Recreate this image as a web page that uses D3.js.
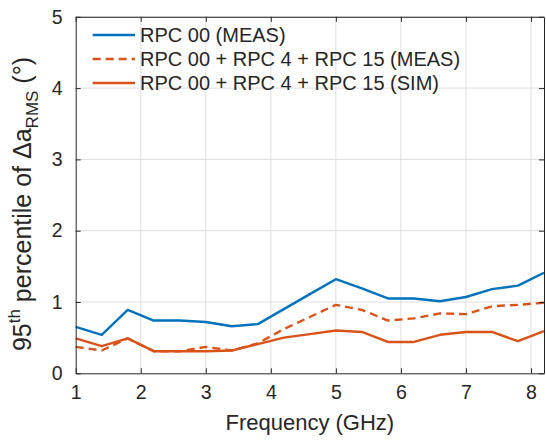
<!DOCTYPE html>
<html>
<head>
<meta charset="utf-8">
<script src="https://cdn.jsdelivr.net/npm/d3@7"></script>
<style>
  html, body { margin: 0; padding: 0; background: #fff; }
  svg { display: block; font-family: "Liberation Sans", Arial, Helvetica, sans-serif; }
</style>
</head>
<body>
<svg id="chart" width="546" height="441"></svg>
<script>
// Frequency sweep (GHz)
const frequency = [1.0, 1.4, 1.8, 2.2, 2.6, 3.0, 3.4, 3.8, 4.2, 4.6, 5.0, 5.4, 5.8, 6.2, 6.6, 7.0, 7.4, 7.8, 8.2];

// 95th percentile of the RMS angle error (degrees)
const rpc00Meas      = [0.65, 0.54, 0.89, 0.74, 0.74, 0.72, 0.66, 0.69, 0.90, 1.11, 1.32, 1.19, 1.05, 1.05, 1.01, 1.07, 1.18, 1.23, 1.41];
const rpcComboMeas   = [0.37, 0.32, 0.49, 0.31, 0.31, 0.37, 0.32, 0.42, 0.62, 0.79, 0.96, 0.89, 0.74, 0.77, 0.84, 0.83, 0.94, 0.96, 0.99];
const rpcComboSim    = [0.49, 0.38, 0.49, 0.31, 0.31, 0.31, 0.32, 0.41, 0.50, 0.55, 0.60, 0.58, 0.44, 0.44, 0.54, 0.58, 0.58, 0.45, 0.59];

const seriesNames = ["RPC 00 (MEAS)", "RPC 00 + RPC 4 + RPC 15 (MEAS)", "RPC 00 + RPC 4 + RPC 15 (SIM)"];
const xTicks = [1, 2, 3, 4, 5, 6, 7, 8];
const yTicks = [0, 1, 2, 3, 4, 5];

const series = [
  { name: seriesNames[0], values: rpc00Meas,    color: "#0072BD", dash: null },
  { name: seriesNames[1], values: rpcComboMeas, color: "#D95319", dash: "8,5" },
  { name: seriesNames[2], values: rpcComboSim,  color: "#D95319", dash: null }
];

const svg = d3.select("#chart");
const plotL = 75.7, plotR = 544, plotT = 16.8, plotB = 373.3;
const ink = "#262626";

const x = d3.scaleLinear().domain([1, 8.2]).range([plotL, plotR]);
const y = d3.scaleLinear().domain([0, 5]).range([plotB, plotT]);

// grid
const grid = svg.append("g").attr("stroke", "#dedede").attr("stroke-width", 1);
grid.selectAll("line.gx").data(xTicks.slice(1)).join("line")
  .attr("x1", d => x(d)).attr("x2", d => x(d)).attr("y1", plotT).attr("y2", plotB);
grid.selectAll("line.gy").data(yTicks.slice(1)).join("line")
  .attr("y1", d => y(d)).attr("y2", d => y(d)).attr("x1", plotL).attr("x2", plotR);

// data lines
const line = d3.line().x((d, i) => x(frequency[i])).y(d => y(d));
svg.append("g").selectAll("path").data(series).join("path")
  .attr("d", d => line(d.values))
  .attr("fill", "none")
  .attr("stroke", d => d.color)
  .attr("stroke-width", 2.4)
  .attr("stroke-dasharray", d => d.dash)
  .attr("stroke-linejoin", "round");

// axes (ticks pointing inward, box on)
const fs = 19.5;
const fmt = d3.format("d");
const xAxis = svg.append("g").attr("transform", `translate(0,${plotB})`)
  .call(d3.axisBottom(x).tickValues(xTicks).tickFormat(fmt).tickSizeInner(-5).tickSizeOuter(0).tickPadding(12));
const yAxis = svg.append("g").attr("transform", `translate(${plotL},0)`)
  .call(d3.axisLeft(y).tickValues(yTicks).tickFormat(fmt).tickSizeInner(-5).tickSizeOuter(0).tickPadding(13));
const xTop = svg.append("g").attr("transform", `translate(0,${plotT})`)
  .call(d3.axisTop(x).tickValues(xTicks).tickSizeInner(-5).tickSizeOuter(0).tickFormat(""));
const yRight = svg.append("g").attr("transform", `translate(${plotR},0)`)
  .call(d3.axisRight(y).tickValues(yTicks).tickSizeInner(-5).tickSizeOuter(0).tickFormat(""));

[xAxis, yAxis, xTop, yRight].forEach(g => {
  g.select(".domain").attr("stroke", ink).attr("stroke-width", 1);
  g.selectAll(".tick line").attr("stroke", ink);
  g.selectAll(".tick text").attr("fill", ink).style("font-size", fs + "px")
    .style("font-family", "'Liberation Sans', Arial, sans-serif");
});

// axis labels
svg.append("text")
  .attr("x", (plotL + plotR) / 2).attr("y", 430)
  .attr("text-anchor", "middle").attr("fill", ink)
  .style("font-size", "22px")
  .text("Frequency (GHz)");

const yl = svg.append("text")
  .attr("transform", `translate(31,${(plotT + plotB) / 2 + 9}) rotate(-90)`)
  .attr("text-anchor", "middle").attr("fill", ink)
  .style("font-size", "25px");
yl.append("tspan").text("95");
yl.append("tspan").attr("dy", -11).style("font-size", "17px").text("th");
yl.append("tspan").attr("dy", 11).text(" percentile of \u0394a");
yl.append("tspan").attr("dy", 7).style("font-size", "17px").text("RMS");
yl.append("tspan").attr("dy", -7).text(" (\u00B0)");

// legend
const legRows = [35, 59, 83];
const leg = svg.append("g");
series.forEach((s, i) => {
  leg.append("line")
    .attr("x1", 92.7).attr("x2", 135).attr("y1", legRows[i]).attr("y2", legRows[i])
    .attr("stroke", s.color).attr("stroke-width", 2.4)
    .attr("stroke-dasharray", s.dash);
  leg.append("text")
    .attr("x", 140).attr("y", legRows[i]).attr("dy", "0.35em")
    .attr("fill", ink).style("font-size", "20px")
    .text(s.name);
});
</script>
</body>
</html>
